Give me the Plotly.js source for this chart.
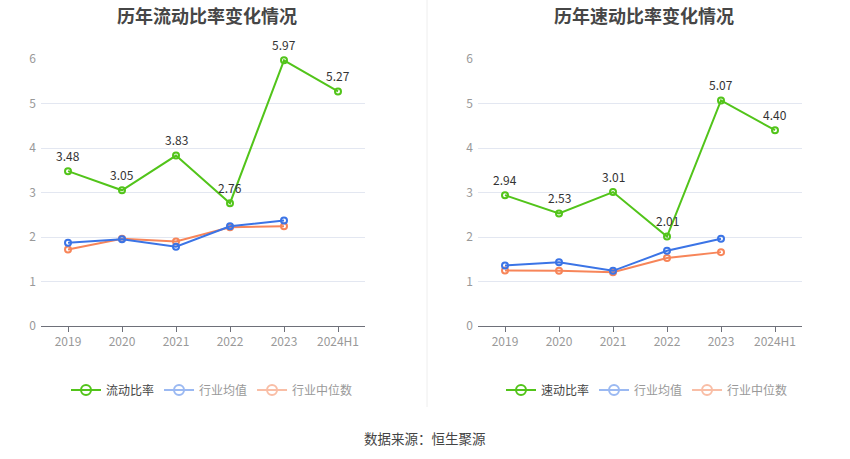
<!DOCTYPE html>
<html>
<head>
<meta charset="utf-8">
<script src="https://cdn.plot.ly/plotly-3.0.1.min.js"></script>
<style>html,body{margin:0;padding:0;background:#fff;}#chart{width:850px;height:459px;}</style>
</head>
<body>
<div id="chart"></div>
<script>
var categories = ['2019','2020','2021','2022','2023','2024H1'];
var currentRatio = [3.48, 3.05, 3.83, 2.76, 5.97, 5.27];
var currentMean = [1.87, 1.95, 1.78, 2.24, 2.37];
var currentMedian = [1.72, 1.96, 1.90, 2.22, 2.24];
var quickRatio = [2.94, 2.53, 3.01, 2.01, 5.07, 4.40];
var quickMean = [1.36, 1.43, 1.24, 1.69, 1.96];
var quickMedian = [1.25, 1.24, 1.21, 1.53, 1.66];
var titles = ['历年流动比率变化情况', '历年速动比率变化情况'];
var names1 = ['流动比率', '行业均值', '行业中位数'];
var names2 = ['速动比率', '行业均值', '行业中位数'];
var sourceText = '数据来源：恒生聚源';

var GREEN = '#52c41a', BLUE = '#3b74e6', ORANGE = '#f78559';
var FONT = '"Noto Sans CJK SC", "Noto Sans", sans-serif';

function fmt(v){ return v.toFixed(2); }

function series(x, y, color, xa, ya) {
  return {
    x: x, y: y, xaxis: xa, yaxis: ya, type: 'scatter',
    mode: 'lines+markers',
    line: {color: color, width: 2},
    marker: {symbol: 'circle-open', size: 6, color: color, line: {width: 2, color: color}},
    showlegend: false, hoverinfo: 'skip', cliponaxis: false
  };
}
function labels(x, y, xa, ya) {
  // category axis: annotation position given by category index
  return x.map(function (c, i) {
    return {
      x: i, y: y[i], xref: xa, yref: ya, text: fmt(y[i]), showarrow: false,
      xanchor: 'center', yanchor: 'middle', yshift: 16,
      font: {size: 12, color: '#333', family: FONT}
    };
  });
}
function legendItem(name, color, legend, xa, ya) {
  return {
    x: [null], y: [null], xaxis: xa, yaxis: ya, type: 'scatter', mode: 'lines+markers',
    name: name, legend: legend,
    line: {color: color, width: 2},
    marker: {symbol: 'circle-open', size: 10, color: color, line: {width: 2, color: color}},
    showlegend: true, hoverinfo: 'skip'
  };
}

var c5 = categories.slice(0, 5);
var data = [
  series(c5, currentMedian, ORANGE, 'x', 'y'),
  series(c5, currentMean, BLUE, 'x', 'y'),
  series(categories, currentRatio, GREEN, 'x', 'y'),
  series(c5, quickMedian, ORANGE, 'x2', 'y2'),
  series(c5, quickMean, BLUE, 'x2', 'y2'),
  series(categories, quickRatio, GREEN, 'x2', 'y2'),
  legendItem('<span style="color:#444">' + names1[0] + '</span>', GREEN, 'legend', 'x', 'y'),
  legendItem('<span style="color:#999">' + names1[1] + '</span>', '#9bb9f2', 'legend', 'x', 'y'),
  legendItem('<span style="color:#999">' + names1[2] + '</span>', '#f9bea6', 'legend', 'x', 'y'),
  legendItem('<span style="color:#444">' + names2[0] + '</span>', GREEN, 'legend2', 'x2', 'y2'),
  legendItem('<span style="color:#999">' + names2[1] + '</span>', '#9bb9f2', 'legend2', 'x2', 'y2'),
  legendItem('<span style="color:#999">' + names2[2] + '</span>', '#f9bea6', 'legend2', 'x2', 'y2')
];

var W = 850, H = 459;
var ydom = [(H - 326) / H, (H - 59) / H];
function xaxis(domain, anchor) {
  return {
    domain: domain, anchor: anchor, type: 'category', range: [-0.5, 5.5],
    showline: true, linecolor: '#6E7079', linewidth: 1,
    ticks: 'outside', ticklen: 5, tickcolor: '#6E7079',
    showgrid: false, zeroline: false, fixedrange: true,
    tickfont: {size: 12, color: '#999', family: FONT}
  };
}
function yaxis(anchor) {
  return {
    domain: ydom, anchor: anchor, range: [0, 6], dtick: 1, tick0: 0,
    showline: false, zeroline: false, gridcolor: '#e3e7f1', gridwidth: 1,
    ticks: '', ticklabelstandoff: 4, fixedrange: true,
    tickfont: {size: 12, color: '#999', family: FONT}
  };
}
function legend(xc) {
  return {
    orientation: 'h', x: xc, xanchor: 'center', y: (H - 390) / H, yanchor: 'middle',
    font: {size: 12, family: FONT, color: '#999'}, bgcolor: 'rgba(0,0,0,0)',
    itemwidth: 30, tracegroupgap: 0
  };
}

var annotations = [
  {text: '<b>' + titles[0] + '</b>', xref: 'paper', yref: 'paper', x: 207 / W, y: (H - 15) / H,
   xanchor: 'center', yanchor: 'middle', showarrow: false, font: {size: 18, color: '#464646', family: FONT}},
  {text: '<b>' + titles[1] + '</b>', xref: 'paper', yref: 'paper', x: 644 / W, y: (H - 15) / H,
   xanchor: 'center', yanchor: 'middle', showarrow: false, font: {size: 18, color: '#464646', family: FONT}},
  {text: sourceText, xref: 'paper', yref: 'paper', x: 425 / W, y: (H - 438) / H,
   xanchor: 'center', yanchor: 'middle', showarrow: false, font: {size: 13.5, color: '#444', family: FONT}}
].concat(labels(categories, currentRatio, 'x', 'y'), labels(categories, quickRatio, 'x2', 'y2'));

var layout = {
  width: W, height: H, margin: {l: 0, r: 0, t: 0, b: 0},
  paper_bgcolor: '#fff', plot_bgcolor: '#fff',
  font: {family: FONT},
  showlegend: true,
  xaxis: xaxis([41 / W, 365 / W], 'y'),
  yaxis: yaxis('x'),
  xaxis2: xaxis([478 / W, 802 / W], 'y2'),
  yaxis2: yaxis('x2'),
  legend: legend(212 / W),
  legend2: legend(647 / W),
  shapes: [{type: 'line', xref: 'paper', yref: 'paper', x0: 427 / W, x1: 427 / W,
            y0: (H - 407) / H, y1: 1, line: {color: '#eeeeee', width: 1}}],
  annotations: annotations
};

Plotly.newPlot('chart', data, layout, {displayModeBar: false, staticPlot: true});
</script>
</body>
</html>
